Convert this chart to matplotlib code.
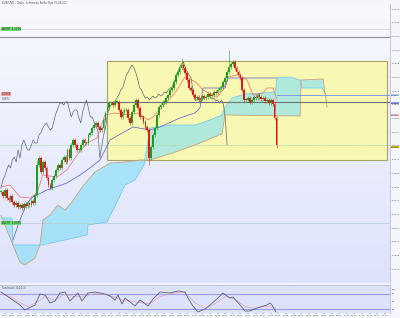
import matplotlib
matplotlib.use("Agg")
import matplotlib.pyplot as plt
import numpy as np
from matplotlib.colors import LinearSegmentedColormap
from matplotlib.patches import Rectangle

# closes per bar (price units, higher = up)
closes = [128, 124, 130, 122, 120, 124, 118, 115, 117, 113,
          115, 112, 116, 114, 117, 115, 119, 117, 125, 155,
          162, 148, 158, 152, 142, 135, 132, 140, 144, 150,
          155, 152, 160, 163, 158, 170, 162, 175, 180, 175,
          170, 170, 175, 180, 177, 177, 185, 187, 192, 195,
          197, 193, 190, 192, 200, 207, 212, 217, 217, 215,
          218, 218, 210, 203, 208, 210, 210, 202, 197, 208,
          215, 220, 212, 203, 203, 198, 193, 190, 162, 173,
          185, 192, 205, 213, 215, 218, 218, 222, 225, 230,
          232, 238, 245, 248, 252, 255, 252, 247, 240, 232,
          230, 225, 222, 223, 220, 222, 224, 222, 223, 226,
          224, 225, 228, 227, 230, 232, 233, 238, 242, 248,
          253, 256, 258, 252, 248, 245, 242, 230, 220, 220,
          222, 218, 220, 223, 222, 225, 223, 221, 222, 219,
          220, 217, 220, 216, 202, 175]
spike_bars = [19, 78, 95, 120, 145]
spike_hi = [160, 192, 262, 270, 202]
spike_lo = [150, 155, 250, 250, 172]

tenkan_x = [0, 4.7, 10, 15.3, 19, 22, 29.5, 34.7, 40, 45.3, 50.5, 54.7, 60, 66.8, 72,
            77.4, 80, 84.7, 91.6, 96.8, 100.5, 103, 106.3, 113.7, 116.8, 119.5, 124.2,
            129.5, 131, 132.6, 137.9, 140, 143.2, 145.3]
tenkan_y = [133, 135, 123, 122, 127, 145, 143, 150, 165, 177, 182, 205, 207, 205, 207,
            200, 203, 213, 227, 243, 240, 237, 230, 223, 230, 243, 245,
            240, 233, 225, 227, 232, 232, 220]

kijun_x = [6.3, 10, 13.7, 16.8, 24.2, 34.7, 41.6, 46.8, 52.1, 57.4, 69.5, 78.4, 83.7,
           94.2, 102, 104.7, 106.3, 117.9, 119.5, 145.3]
kijun_y = [80, 100, 117, 123, 130, 137, 145, 152, 160, 180, 193, 190, 193,
           202, 207, 212, 232, 232, 242, 242]

spanA_x = [0, 5.8, 6.3, 21.6, 45.3, 45.8, 55.8, 61.6, 65.3, 70.5, 75.3, 78.4, 88.9,
           102.1, 105.8, 116.3, 117.9, 121.6, 128.4, 137.4, 144.2, 145.3, 152.1, 157.4,
           158.4, 168.9, 171.1]
spanA_y = [102, 102, 75, 75, 85, 95, 98, 120, 135, 140, 155, 192, 195,
           195, 197, 205, 213, 222, 226, 227, 228, 242, 243, 240,
           232, 232, 225]
spanB_x = [0, 2.1, 6.3, 10, 12.6, 17.9, 20.5, 22.1, 25.8, 30, 33.7, 37.4, 41.6, 45.8,
           49.5, 57.4, 65.3, 73.2, 78.4, 88.9, 102.1, 116.3, 117.9, 157.4, 157.9,
           169.5, 171.6]
spanB_y = [105, 95, 75, 58, 55, 62, 75, 100, 105, 115, 110, 118, 130, 140,
           148, 157, 158, 160, 160, 166, 175, 186, 205, 204, 240,
           241, 213]

osc_x = [0, 4.7, 10, 12.6, 17.9, 20.5, 23.2, 25.8, 28.4, 31.1, 33.7, 36.3, 38.9, 40.5,
         42.6, 45.8, 49.5, 54.7, 57.4, 60, 61.6, 63.7, 65.3, 67.9, 70.5, 73.2, 77.4, 80,
         83.7, 88.9, 93.2, 96.8, 98.4, 101, 103.7, 107.4, 110, 114.2, 116.8, 120.5, 122.1,
         125.8, 128.4, 131, 134.7, 140, 141.6, 142.6, 144.7]
osc_y = [88, 64, 36, 16, 36, 80, 76, 44, 52, 84, 88, 52, 72, 84,
         52, 84, 88, 80, 72, 56, 76, 40, 64, 48, 32, 56, 32, 60,
         88, 84, 92, 88, 64, 32, 8, 20, 36, 64, 84, 64, 68,
         36, 12, 12, 24, 36, 44, 36, 8]
sig_x = [0, 4.7, 10, 14.2, 19.5, 23.2, 28.4, 33.7, 38.9, 44.2, 49.5, 57.4, 62.6, 67.9,
         73.2, 78.4, 83.7, 91.6, 96.8, 102.1, 107.4, 112.6, 117.9, 123.2, 128.4, 133.7,
         139, 144.7]
sig_y = [80, 70, 45, 30, 50, 70, 55, 80, 68, 72, 82, 75, 58, 52,
         45, 42, 70, 85, 86, 45, 20, 40, 70, 60, 30, 22, 32, 25]

levels = [291, 283, 218, 175, 97]
date_labels = ["%02d.%02d" % (d, m) for m in range(1, 13) for d in (1, 8, 15, 22, 29)]

n = len(closes)
bars = np.arange(n)
opens = np.array([closes[0]] + closes[:-1], dtype=float)
closes_a = np.array(closes, dtype=float)
highs = np.maximum(opens, closes_a) + 2
lows = np.minimum(opens, closes_a) - 2
for b, h, l in zip(spike_bars, spike_hi, spike_lo):
    highs[b] = max(highs[b], h)
    lows[b] = min(lows[b], l)

fig = plt.figure(figsize=(4, 3.18), dpi=100)
fig.patch.set_facecolor('#f5f6fc')

ax = fig.add_axes([0, 1 - 283 / 318, 390 / 400, 279 / 318])
ax.set_xlim(-0.5, 204.7)
ax.set_ylim(37, 316)
bg = LinearSegmentedColormap.from_list('bg', ['#dde3fb', '#f8f9fe'])
ax.imshow(np.linspace(0, 1, 100).reshape(-1, 1), extent=[-0.5, 204.7, 37, 316],
          cmap=bg, aspect='auto', origin='lower', zorder=0)

# yellow box
ax.add_patch(Rectangle((55.8, 160), 147.4, 99, facecolor='#f8f8b2',
                       edgecolor='#a4a466', lw=0.8, zorder=1))

# cloud
cloud_x = spanA_x + spanB_x[::-1]
cloud_y = spanA_y + spanB_y[::-1]
ax.fill(cloud_x, cloud_y, color='#80def8', alpha=0.6, lw=0, zorder=2)
ax.plot(spanA_x, spanA_y, color='#6cc4f0', lw=0.5, zorder=3)
ax.plot(spanB_x, spanB_y, color='#c8a47c', lw=0.6, zorder=3)

# levels
ax.axhline(levels[0], color='#d8d8e0', lw=0.6, zorder=2)
ax.axhline(levels[1], color='#909098', lw=0.8, zorder=2)
ax.axhline(levels[2], color='#707078', lw=0.8, zorder=3)
ax.axhline(levels[3], color='#b0d8b0', lw=0.6, ls=(0, (2, 1)), zorder=2)
ax.axhline(levels[4], color='#b8d0d8', lw=0.6, zorder=2)
ax.plot([145.3, 204.7], [225, 225], color='#7c9cf0', lw=0.7, zorder=3)

# chikou
ax.plot(bars[26:] - 26, closes_a[26:], color='#666670', lw=0.5, zorder=4)
ax.plot(tenkan_x, tenkan_y, color='#f06868', lw=0.5, zorder=4)
ax.plot(kijun_x, kijun_y, color='#5858d0', lw=0.5, zorder=4)

# candles
up = closes_a >= opens
cols = np.where(up, '#1e9e1e', '#e01818')
ax.vlines(bars, lows, highs, colors=cols, lw=0.4, zorder=5)
hgt = np.maximum(np.abs(closes_a - opens), 0.8)
ax.bar(bars, hgt, bottom=np.minimum(opens, closes_a), width=0.9, color=cols,
       lw=0, zorder=6)

# price axis
ax.yaxis.tick_right()
ticks = np.arange(311, 37, -13.7)
ax.set_yticks(ticks)
ax.set_yticklabels(["%.4f" % (1.0 + t * 0.0004) for t in ticks], fontsize=1.7,
                   color='#505058')
ax.tick_params(axis='y', length=0.8, width=0.3, pad=0.6)
ax.set_xticks([])
for s in ['top', 'left', 'bottom']:
    ax.spines[s].set_visible(False)
ax.spines['right'].set_color('#b0b4c0')
ax.spines['right'].set_linewidth(0.5)

# left labels
ax.text(0.3, 291, "ALERT 1.1164", fontsize=2, color='#104010', va='center',
        bbox=dict(boxstyle='square,pad=0.15', fc='#70d870', ec='none'), zorder=7)
ax.text(0.3, 226, "1.0904", fontsize=2, color='#601010', va='center',
        bbox=dict(boxstyle='square,pad=0.15', fc='#f4a0a0', ec='none'), zorder=7)
ax.text(0.3, 219.5, "1.0872", fontsize=1.8, color='#404048', va='bottom', zorder=7)
ax.text(0.3, 97, "ALERT 1.0388", fontsize=2, color='#104010', va='center',
        bbox=dict(boxstyle='square,pad=0.15', fc='#70d870', ec='none'), zorder=7)

# right tags
tags = [(225, '#a8c8f8', "1.0900"), (217, '#8898e8', "1.0868"),
        (205, '#f0b0c0', "1.0820"), (173, '#d8b400', "1.0692")]
for yv, c, t in tags:
    ax.text(1.003, yv, t, transform=ax.get_yaxis_transform(), fontsize=1.6,
            va='center', color='#303030', clip_on=False,
            bbox=dict(boxstyle='square,pad=0.08', fc=c, ec='none'))

# oscillator
ax2 = fig.add_axes([0, 5 / 318, 390 / 400, 28 / 318])
ax2.set_facecolor('#dce3fb')
ax2.set_xlim(-0.5, 204.7)
ax2.set_ylim(4, 116)
ax2.axhline(80, color='#9c9ce8', lw=0.8)
ax2.axhline(20, color='#9c9ce8', lw=0.8)
ax2.plot(sig_x, sig_y, color='#e8a0b8', lw=0.5)
ax2.plot(osc_x, osc_y, color='#606070', lw=0.6)
ax2.yaxis.tick_right()
ax2.set_yticks([100, 80, 50, 20])
ax2.set_yticklabels(["100", "80", "50", "20"], fontsize=1.7, color='#505058')
ax2.tick_params(axis='y', length=0.8, width=0.3, pad=0.6)
xt = np.arange(2, 204, 4)
ax2.set_xticks(xt)
ax2.set_xticklabels(date_labels[:len(xt)], fontsize=1.6, color='#505058')
ax2.tick_params(axis='x', length=0.8, width=0.3, pad=0.5)
for s in ['left', 'bottom']:
    ax2.spines[s].set_visible(False)
ax2.spines['top'].set_color('#c0c4d0')
ax2.spines['right'].set_color('#b0b4c0')
ax2.spines['top'].set_linewidth(0.8)
ax2.spines['right'].set_linewidth(0.5)
ax2.text(0.5, 112, "Stochastic (14,3,3)", fontsize=1.8, color='#404048', va='top')

fig.text(0.005, 0.997, "EUR/USD - Daily - Ichimoku Kinko Hyo (9,26,52)", fontsize=2,
         color='#505058', va='top')

fig.savefig('out.png', dpi=100, facecolor=fig.get_facecolor())
